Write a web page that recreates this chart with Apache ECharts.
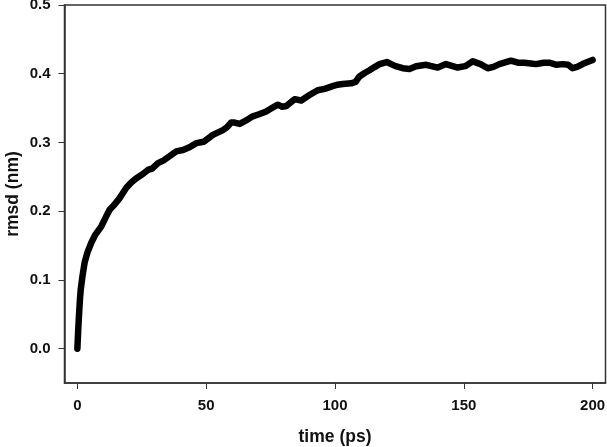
<!DOCTYPE html>
<html>
<head>
<meta charset="utf-8">
<script src="https://cdn.jsdelivr.net/npm/echarts@6/dist/echarts.min.js"></script>
<style>html,body{margin:0;padding:0;background:#fff}#c{width:607px;height:447px}</style>
</head>
<body>
<div id="c"></div>
<script>
var timePs = [0, 0.3, 0.6, 1.0, 1.3, 2.0, 2.8, 4.0, 5.4, 7.0, 9.3, 11.0, 12.5, 14.5, 16.4, 19.0, 21.0, 22.9, 25.0, 27.4, 29.0, 31.3, 33.5, 35.8, 38.4, 41.0, 43.5, 46.2, 49.0, 52.6, 56.5, 58.0, 59.7, 61.0, 63.0, 65.5, 68.1, 70.5, 73.3, 75.5, 77.8, 79.5, 81.1, 84.3, 86.9, 90.1, 93.3, 96.0, 99.1, 101.0, 103.0, 106.3, 108.0, 109.5, 111.5, 113.4, 115.5, 117.3, 120.1, 121.8, 123.5, 126.3, 128.9, 131.5, 135.4, 139.9, 143.1, 147.6, 150.5, 153.5, 156.5, 159.3, 161.5, 163.8, 168.3, 171.0, 173.5, 176.0, 178.0, 181.0, 183.2, 186.0, 188.4, 190.5, 192.2, 194.0, 196.1, 198.0, 200.0];
var rmsdNm = [0.000, 0.025, 0.047, 0.072, 0.086, 0.106, 0.125, 0.141, 0.154, 0.166, 0.178, 0.191, 0.202, 0.210, 0.219, 0.234, 0.242, 0.248, 0.253, 0.260, 0.262, 0.270, 0.274, 0.280, 0.287, 0.289, 0.293, 0.299, 0.301, 0.311, 0.318, 0.322, 0.329, 0.329, 0.327, 0.332, 0.338, 0.341, 0.345, 0.350, 0.355, 0.352, 0.353, 0.363, 0.361, 0.369, 0.376, 0.378, 0.382, 0.384, 0.385, 0.386, 0.388, 0.396, 0.401, 0.405, 0.410, 0.414, 0.417, 0.414, 0.411, 0.408, 0.407, 0.411, 0.413, 0.409, 0.414, 0.409, 0.411, 0.418, 0.414, 0.408, 0.410, 0.414, 0.419, 0.416, 0.416, 0.415, 0.414, 0.416, 0.416, 0.413, 0.414, 0.413, 0.408, 0.410, 0.414, 0.417, 0.420];
var xTicks = [0, 50, 100, 150, 200];
var yTicks = [0.0, 0.1, 0.2, 0.3, 0.4, 0.5];

var chart = echarts.init(document.getElementById('c'), null, {renderer: 'canvas'});
var data = timePs.map(function (t, i) { return [t, rmsdNm[i]]; });
var font = 'Liberation Sans, Arial, sans-serif';
chart.setOption({
  animation: false,
  backgroundColor: '#fff',
  grid: {left: 64.5, right: 1.5, top: 5, bottom: 64, show: true, borderColor: '#333', borderWidth: 1.5, containLabel: false, outerBoundsMode: 'none'},
  xAxis: {
    type: 'value', min: -5, max: 205,
    name: 'time (ps)', nameLocation: 'middle', nameGap: 45,
    nameTextStyle: {fontFamily: font, fontWeight: 'bold', fontSize: 17.5, color: '#111'},
    axisLine: {show: true, onZero: false, lineStyle: {color: '#333', width: 1.5}},
    axisTick: {show: true, length: 6, customValues: xTicks, lineStyle: {color: '#333'}},
    axisLabel: {customValues: xTicks, margin: 15, fontFamily: font, fontWeight: 'bold', fontSize: 15, color: '#111', formatter: function (v) { return String(Math.round(v)); }},
    splitLine: {show: false}
  },
  yAxis: {
    type: 'value', min: -0.05, max: 0.5,
    name: 'rmsd (nm)', nameLocation: 'middle', nameGap: 42, nameRotate: 90, nameMoveOverlap: false,
    nameTextStyle: {fontFamily: font, fontWeight: 'bold', fontSize: 17.5, color: '#111'},
    axisLine: {show: true, onZero: false, lineStyle: {color: '#333', width: 1.5}},
    axisTick: {show: true, length: 6, customValues: yTicks, lineStyle: {color: '#333'}},
    axisLabel: {customValues: yTicks, margin: 14, fontFamily: font, fontWeight: 'bold', fontSize: 15, color: '#111', formatter: function (v) { return v.toFixed(1); }},
    splitLine: {show: false}
  },
  series: [{
    type: 'line', data: data, showSymbol: false, symbol: 'none', smooth: false,
    lineStyle: {color: '#000', width: 6.5, cap: 'round', join: 'round'}
  }]
});
</script>
</body>
</html>
